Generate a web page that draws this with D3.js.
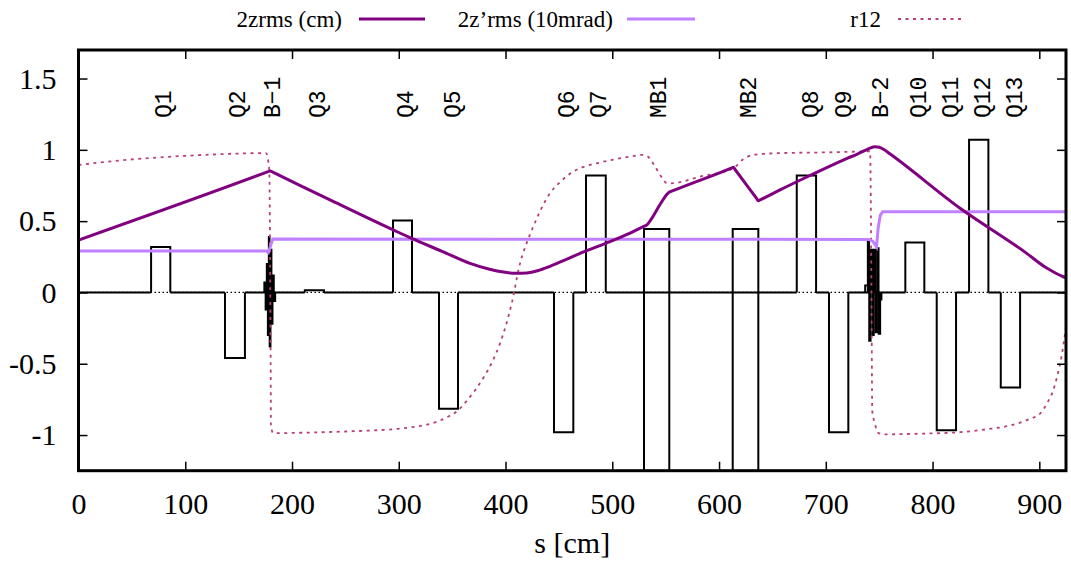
<!DOCTYPE html>
<html>
<head>
<meta charset="utf-8">
<script src="https://cdn.jsdelivr.net/npm/d3@7"></script>
<style>
  body { margin: 0; background: #fff; }
  svg { display: block; }
</style>
</head>
<body>
<svg id="chart" width="1071" height="562"></svg>
<script>
// tick values
var sTicks = [0, 100, 200, 300, 400, 500, 600, 700, 800, 900];
var yTicks = [-1, -0.5, 0, 0.5, 1, 1.5];
var yTickLabels = ["-1", "-0.5", "0", "0.5", "1", "1.5"];

// quadrupoles: name, s start, s end, strength
var quads = [
    ["Q1", 68, 86, 0.318],
    ["Q2", 137.2, 155.9, -0.46],
    ["Q3", 212, 230, 0.015],
    ["Q4", 294.6, 312.4, 0.505],
    ["Q5", 337.7, 355.5, -0.815],
    ["Q6", 445.4, 463.5, -0.98],
    ["Q7", 475.4, 493.9, 0.82],
    ["Q8", 672.8, 690.9, 0.82],
    ["Q9", 703, 721.1, -0.98],
    ["Q10", 774.5, 792.3, 0.35],
    ["Q11", 803.9, 822, -0.967],
    ["Q12", 834.2, 852.3, 1.07],
    ["Q13", 863.9, 882, -0.667]
];

// dipoles: name, s start, s end, upper, lower
var dipoles = [
    ["MB1", 529.7, 553.4, 0.445, -2],
    ["MB2", 612.8, 636.8, 0.445, -2]
];

// fringe field slices of the two bends: s start, s end, strength
var bend1 = [
    [174, 175.2, 0.07], [175.2, 176.3, -0.12], [176.3, 177.3, 0.2],
    [177.3, 178.2, -0.3], [178.2, 179, 0.39], [179, 179.9, -0.38],
    [179.9, 180.8, 0.3], [180.8, 181.8, -0.22], [181.8, 183, 0.12],
    [183, 184.3, -0.06]
];
var bend2 = [
    [736.8, 739.3, 0.05], [739.3, 740.6, 0.357], [740.6, 742, -0.34],
    [742, 743.5, 0.3], [743.5, 745, -0.3], [745, 746.5, 0.3],
    [746.5, 748, -0.28], [748, 749.5, 0.31], [749.5, 751, -0.29],
    [751, 752.2, -0.05]
];

// element labels
var labelNames = ["Q1", "Q2", "B\u22121", "Q3", "Q4", "Q5", "Q6", "Q7", "MB1", "MB2",
                  "Q8", "Q9", "B\u22122", "Q10", "Q11", "Q12", "Q13"];
var labelPos = [79.2, 148.5, 181.3, 223.4, 305.9, 349.8, 456.7, 486.7, 542.9, 627.2,
                685.2, 716.2, 750.8, 786.4, 816.4, 846.4, 876.3];

// 2zrms (cm)
var zrmsS = [0, 177, 179.5, 182, 235.6, 294.9, 312.1, 340, 366.7, 385, 398, 410, 420, 430,
             441.7, 457, 472.6, 493.9, 515, 530.5, 532.3, 537, 545, 553.4, 555, 611.5, 613.4,
             615, 635, 636.8, 638.5, 657.1, 685.2, 720, 730, 738, 742, 746, 750, 754, 760,
             825.8, 888.2, 905, 913, 922.5, 925];
var zrmsV = [0.367, 0.845, 0.852, 0.843, 0.649, 0.438, 0.379, 0.29, 0.204, 0.163, 0.143, 0.134,
             0.137, 0.152, 0.183, 0.232, 0.282, 0.344, 0.41, 0.467, 0.473, 0.52, 0.62, 0.703,
             0.708, 0.872, 0.878, 0.862, 0.661, 0.643, 0.649, 0.719, 0.82, 0.94, 0.972, 1.0,
             1.014, 1.022, 1.018, 1.004, 0.972, 0.59, 0.274, 0.18, 0.145, 0.11, 0.103];

// 2z'rms (10mrad)
var zprmsS = [0, 176, 177.8, 180, 182, 740, 744, 747.5, 749, 751, 753.3, 925];
var zprmsV = [0.29, 0.29, 0.28, 0.33, 0.375, 0.372, 0.36, 0.32, 0.45, 0.54, 0.566, 0.566];

// r12
var r12S = [0, 25, 50, 75, 100, 125, 150, 175.6, 178.7, 179.5, 180, 180.3, 182.5, 207.8,
            250, 299, 313, 330, 345.5, 355, 364, 372, 380, 388, 394.8, 400, 405.8, 413.6,
            420, 426, 433, 441.7, 452, 463.5, 475, 488.5, 500, 515, 529, 533, 540, 547,
            551, 555, 582.2, 613.4, 622, 632.1, 657, 700, 732, 741.5, 742.5, 743, 743.5,
            746, 749, 755, 790, 825.8, 850, 872.6, 890, 900.7, 907, 913, 917, 920.8, 925];
var r12V = [0.894, 0.915, 0.933, 0.946, 0.958, 0.967, 0.974, 0.977, 0.86, 0.2, -0.5, -0.94, -0.987, -0.984,
            -0.975, -0.956, -0.944, -0.92, -0.874, -0.83, -0.757, -0.68, -0.59, -0.48, -0.358, -0.24, -0.077, 0.204,
            0.35, 0.461, 0.58, 0.696, 0.78, 0.848, 0.885, 0.911, 0.93, 0.95, 0.965, 0.955, 0.883, 0.8,
            0.766, 0.765, 0.812, 0.871, 0.93, 0.965, 0.977, 0.982, 0.988, 0.99, 0.3, -0.3, -0.83,
            -0.92, -0.985, -0.995, -0.99, -0.98, -0.96, -0.933, -0.89, -0.85, -0.78, -0.687, -0.58, -0.45, -0.24];

var legendNames = ["2zrms (cm)", "2z\u2019rms (10mrad)", "r12"];

var serif = "'Liberation Serif', Tinos, 'Times New Roman', Times, 'Nimbus Roman', 'DejaVu Serif', serif";
var mono = "'Liberation Mono', Cousine, 'Courier New', Courier, 'DejaVu Sans Mono', monospace";

var svg = d3.select("#chart");
var pLeft = 78.5, pRight = 1066, pTop = 50, pBottom = 470.7;
var x = d3.scaleLinear().domain([0, 925]).range([pLeft, pRight]);
var y = d3.scaleLinear().domain([-1.25, 1.7]).range([pBottom, pTop]);

svg.append("defs").append("clipPath").attr("id", "plotclip")
    .append("rect")
    .attr("x", pLeft).attr("y", pTop)
    .attr("width", pRight - pLeft).attr("height", pBottom - pTop);

var plot = svg.append("g").attr("clip-path", "url(#plotclip)");

// zero line: dotted under the quads, solid elsewhere
plot.append("line")
    .attr("x1", x(0)).attr("x2", x(925))
    .attr("y1", y(0)).attr("y2", y(0))
    .attr("stroke", "black").attr("stroke-width", 1.2)
    .attr("stroke-dasharray", "1.5,2.5");
var gaps = [];
var prev = 0;
quads.forEach(function(q) {
    gaps.push([prev, q[1]]);
    prev = q[2];
});
gaps.push([prev, 925]);
plot.selectAll("line.gap").data(gaps).enter().append("line")
    .attr("class", "gap")
    .attr("x1", function(d) { return x(d[0]); })
    .attr("x2", function(d) { return x(d[1]); })
    .attr("y1", y(0)).attr("y2", y(0))
    .attr("stroke", "black").attr("stroke-width", 2);

function box(s0, s1, h) {
    return "M" + x(s0) + "," + y(0) + "V" + y(h) + "H" + x(s1) + "V" + y(0);
}

plot.selectAll("path.quad").data(quads).enter().append("path")
    .attr("class", "quad")
    .attr("d", function(d) { return box(d[1], d[2], d[3]); })
    .attr("fill", "none").attr("stroke", "black").attr("stroke-width", 2);

plot.selectAll("path.dip").data(dipoles).enter().append("path")
    .attr("class", "dip")
    .attr("d", function(d) { return box(d[1], d[2], d[3]) + box(d[1], d[2], d[4]); })
    .attr("fill", "none").attr("stroke", "black").attr("stroke-width", 2);

plot.selectAll("path.bend").data(bend1.concat(bend2)).enter().append("path")
    .attr("class", "bend")
    .attr("d", function(d) { return box(d[0], d[1], d[2]); })
    .attr("fill", "none").attr("stroke", "black").attr("stroke-width", 1.8);

var line = d3.line()
    .x(function(d) { return x(d[0]); })
    .y(function(d) { return y(d[1]); });
var smooth = d3.line()
    .curve(d3.curveMonotoneX)
    .x(function(d) { return x(d[0]); })
    .y(function(d) { return y(d[1]); });

plot.append("path")
    .attr("d", smooth(d3.zip(r12S, r12V)))
    .attr("fill", "none").attr("stroke", "#b5407c").attr("stroke-width", 1.8)
    .attr("stroke-dasharray", "3,4.5");
plot.append("path")
    .attr("d", line(d3.zip(zprmsS, zprmsV)))
    .attr("fill", "none").attr("stroke", "#c080ff").attr("stroke-width", 3);
plot.append("path")
    .attr("d", smooth(d3.zip(zrmsS, zrmsV)))
    .attr("fill", "none").attr("stroke", "#800080").attr("stroke-width", 3)
    .attr("stroke-linejoin", "round");

// element labels
svg.selectAll("text.elem").data(labelNames).enter().append("text")
    .attr("class", "elem")
    .attr("transform", function(d, i) {
        return "translate(" + x(labelPos[i]) + ",118) rotate(-90)";
    })
    .attr("dy", "0.35em")
    .style("font-family", mono)
    .style("font-size", "23px")
    .text(function(d) { return d; });

// axes
var fmtY = function(d) { return yTickLabels[yTicks.indexOf(d)]; };
var axB = svg.append("g")
    .attr("transform", "translate(0," + pBottom + ")")
    .call(d3.axisBottom(x).tickValues(sTicks).tickSize(-9).tickPadding(22));
var axL = svg.append("g")
    .attr("transform", "translate(" + pLeft + ",0)")
    .call(d3.axisLeft(y).tickValues(yTicks).tickFormat(fmtY).tickSize(-9).tickPadding(22));
var axT = svg.append("g")
    .attr("transform", "translate(0," + pTop + ")")
    .call(d3.axisTop(x).tickValues(sTicks).tickSize(-9).tickFormat(""));
var axR = svg.append("g")
    .attr("transform", "translate(" + pRight + ",0)")
    .call(d3.axisRight(y).tickValues(yTicks).tickSize(-9).tickFormat(""));
[axB, axL, axT, axR].forEach(function(a) {
    a.select(".domain").remove();
    a.selectAll(".tick line").attr("stroke", "black").attr("stroke-width", 1.5);
    a.selectAll("text").style("font-family", serif)
        .style("font-size", "30px").attr("fill", "black");
});

svg.append("rect")
    .attr("x", pLeft).attr("y", pTop)
    .attr("width", pRight - pLeft).attr("height", pBottom - pTop)
    .attr("fill", "none").attr("stroke", "black").attr("stroke-width", 3);

svg.append("text")
    .attr("x", (pLeft + pRight) / 2).attr("y", 553)
    .attr("text-anchor", "middle")
    .style("font-family", serif).style("font-size", "30px")
    .text("s [cm]");

// legend
var legTextEnd = [342, 613, 881];
var legLine = [[359, 425], [627, 695], [898, 964]];
var legColor = ["#800080", "#c080ff", "#b5407c"];
var legY = 19;
legendNames.forEach(function(n, i) {
    svg.append("text")
        .attr("x", legTextEnd[i]).attr("y", legY).attr("dy", "0.33em")
        .attr("text-anchor", "end")
        .style("font-family", serif).style("font-size", "23px")
        .text(n);
    svg.append("line")
        .attr("x1", legLine[i][0]).attr("x2", legLine[i][1])
        .attr("y1", legY).attr("y2", legY)
        .attr("stroke", legColor[i])
        .attr("stroke-width", i == 2 ? 1.8 : 3)
        .attr("stroke-dasharray", i == 2 ? "3,4.5" : null);
});
</script>
</body>
</html>
